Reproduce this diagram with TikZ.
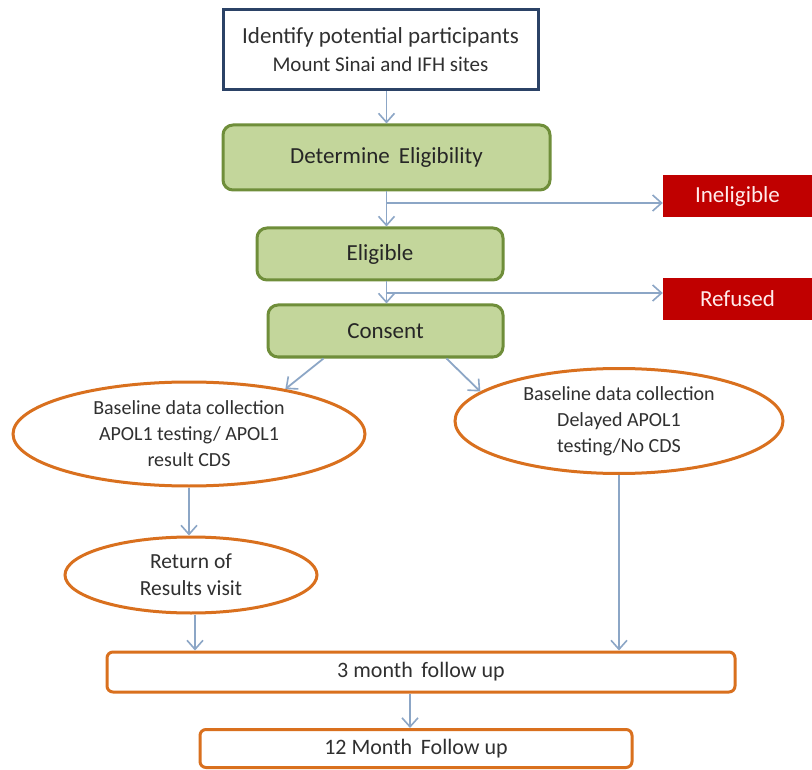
\documentclass[tikz,border=0pt]{standalone}
\usepackage{fontspec}
\setmainfont{Carlito}
\usetikzlibrary{shapes.geometric,arrows.meta,calc}
\definecolor{navy}{HTML}{2B4266}
\definecolor{gfill}{HTML}{C3D69B}
\definecolor{gline}{HTML}{6F8E3A}
\definecolor{rfill}{HTML}{C00000}
\definecolor{oline}{HTML}{D9701E}
\definecolor{arrc}{HTML}{8CA6C6}
\definecolor{txt}{HTML}{303030}
\tikzset{
  topbox/.style={draw=navy,line width=3pt,fill=white,minimum width=315pt,minimum height=80pt,inner sep=0pt,align=center,text=txt,font=\fontsize{22}{28}\selectfont},
  greenbox/.style={draw=gline,line width=3pt,fill=gfill,rounded corners=10pt,inner sep=0pt,text=black!85,font=\fontsize{23}{28}\selectfont},
  redbox/.style={fill=rfill,inner sep=0pt,minimum width=149pt,minimum height=42pt,text=red!8,font=\fontsize{23}{28}\selectfont},
  oval/.style={ellipse,draw=oline,line width=3pt,fill=white,inner sep=0pt,align=center,text=txt},
  obox/.style={draw=oline,line width=3pt,fill=white,rounded corners=6pt,inner sep=0pt,text=txt,font=\fontsize{22}{26}\selectfont},
  arr/.style={draw=arrc,line width=1.8pt,-{Straight Barb[length=9pt,width=16pt,line width=1.6pt]}}
}
\begin{document}
\begin{tikzpicture}[x=1pt,y=-1pt]
\useasboundingbox[fill=white] (0,0) rectangle (812,770);
\node[topbox] (top) at (380.5,50) {{\fontsize{23}{28}\selectfont Identify potential participants}\\{\fontsize{21}{28}\selectfont Mount Sinai and IFH sites}};
\node[greenbox,minimum width=327pt,minimum height=65pt] (det) at (386.5,157.5) {Determine\, Eligibility};
\node[redbox] (inel) at (737.5,196) {Ineligible};
\node[greenbox,minimum width=246pt,minimum height=52pt] (elig) at (380,254) {Eligible};
\node[redbox] (ref) at (737.5,299) {Refused};
\node[greenbox,minimum width=235pt,minimum height=52pt] (cons) at (385.5,331) {Consent};
\node[oval,minimum width=352pt,minimum height=104pt,font=\fontsize{20}{26}\selectfont] (e1) at (189,434) {Baseline data collection\\APOL1 testing/ APOL1\\result CDS};
\node[oval,minimum width=328pt,minimum height=105pt,font=\fontsize{20}{26}\selectfont] (e2) at (619,421) {Baseline data collection\\Delayed APOL1\\testing/No CDS};
\node[oval,minimum width=252pt,minimum height=76pt,font=\fontsize{21.5}{27}\selectfont] (ret) at (191,575) {Return of\\Results visit};
\node[obox,minimum width=628pt,minimum height=40pt] (m3) at (421,672) {3 month\, follow up};
\node[obox,minimum width=432pt,minimum height=38pt] (m12) at (416,748.5) {12 Month\, Follow up};
\coordinate (b1) at (386.5,203);
\coordinate (b2) at (386.5,293);
\draw[arr] (top.south -| det.north) -- (det.north);
\draw[arr] (det.south) -- (det.south |- elig.north);
\draw[arr] (b1) -- (b1 -| inel.west);
\draw[arr] (elig.south -| det.south) -- (cons.north -| det.south);
\draw[arr] (b2) -- (b2 -| ref.west);
\draw[arr] ([xshift=57pt]cons.south west) -- (e1.25);
\draw[arr] ([xshift=-58pt]cons.south east) -- (e2.168);
\draw[arr] (e1.south) -- (e1.south |- ret.north);
\draw[arr] ([xshift=4pt]ret.south) -- ([xshift=4pt]ret.south |- m3.north);
\draw[arr] (e2.south) -- (e2.south |- m3.north);
\draw[arr] ([xshift=-11pt]m3.south) -- ([xshift=-6pt]m12.north);
\end{tikzpicture}
\end{document}
